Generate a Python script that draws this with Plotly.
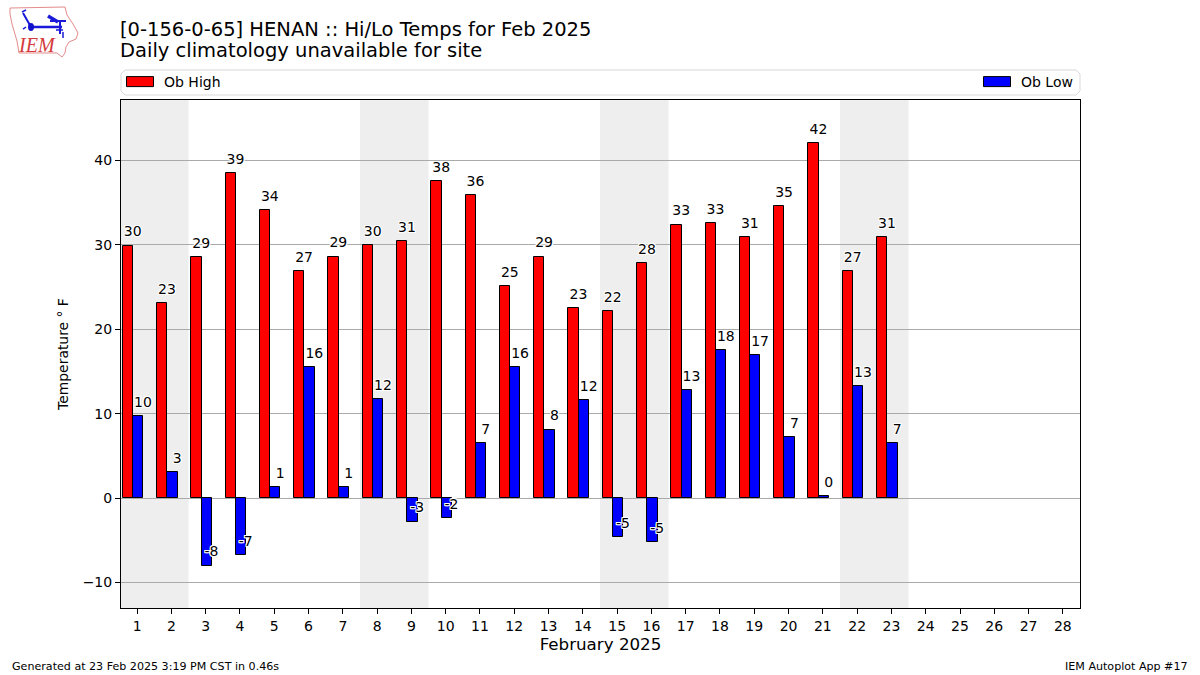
import plotly.graph_objects as go

days = list(range(1, 24))
highs = [29.9, 23.1, 28.5, 38.5, 34.1, 26.9, 28.6, 30.0, 30.4, 37.5, 35.9, 25.1, 28.6, 22.5, 22.1, 27.8, 32.4, 32.6, 30.9, 34.6, 42.0, 26.9, 30.9]
lows = [9.7, 3.1, -8.0, -6.8, 1.3, 15.5, 1.3, 11.7, -2.8, -2.4, 6.5, 15.5, 8.1, 11.6, -4.6, -5.2, 12.8, 17.5, 16.9, 7.2, 0.2, 13.3, 6.5]
high_labels = [30, 23, 29, 39, 34, 27, 29, 30, 31, 38, 36, 25, 29, 23, 22, 28, 33, 33, 31, 35, 42, 27, 31]
low_labels = [10, 3, -8, -7, 1, 16, 1, 12, -3, -2, 7, 16, 8, 12, -5, -5, 13, 18, 17, 7, 0, 13, 7]
weekends = [(0.5, 2.5), (7.5, 9.5), (14.5, 16.5), (21.5, 23.5)]
x_ticks = list(range(1, 29))
y_ticks = [-10, 0, 10, 20, 30, 40]

FONT = "DejaVu Sans"
HALO = "white 1px 0 0, white -1px 0 0, white 0 1px 0, white 0 -1px 0, white 1px 1px 0, white -1px -1px 0, white 1px -1px 0, white -1px 1px 0"
L, R, T, B = 121, 1080, 100, 608


def px(x, y):
    return (x - L) / (R - L), (B - y) / (B - T)


def path(points, close=False):
    coords = [px(*p) for p in points]
    d = "M" + " L".join(f"{a:.5f},{b:.5f}" for a, b in coords)
    return d + (" Z" if close else "")


fig = go.Figure()
fig.add_bar(x=days, y=highs, name="Ob High", width=0.3, offset=-0.42,
            marker=dict(color="#ff0000", line=dict(color="black", width=1)))
fig.add_bar(x=days, y=lows, name="Ob Low", width=0.3, offset=-0.12, legend="legend2",
            marker=dict(color="#0000ff", line=dict(color="black", width=1)))
for offset, vals, labels in ((-0.13, highs, high_labels), (0.17, lows, low_labels)):
    fig.add_scatter(x=[d + offset for d in days], y=[v + 0.68 for v in vals],
                    mode="text", text=[str(v) for v in labels],
                    textposition="top center", showlegend=False, hoverinfo="skip", cliponaxis=False,
                    textfont=dict(family=FONT, size=14, color="black", shadow=HALO))

for a, b in weekends:
    fig.add_shape(type="rect", x0=a, x1=b, y0=0, y1=1, xref="x", yref="y domain",
                  fillcolor="#eeeeee", line_width=0, layer="below")

# Rounded legend frame
r = 4
lx0, lx1, ly0, ly1 = 121, 1080, 70, 95
fig.add_shape(type="path", xref="paper", yref="paper", line=dict(color="#d9d9d9", width=1), fillcolor="white", layer="below",
              path=path([(lx0 + r, ly0), (lx1 - r, ly0), (lx1, ly0 + r), (lx1, ly1 - r), (lx1 - r, ly1), (lx0 + r, ly1), (lx0, ly1 - r), (lx0, ly0 + r)], True))

# IEM logo: Iowa outline and station glyph
outline = [(10, 8), (65, 7), (67, 15), (73, 24), (78, 33), (76, 39), (69, 42), (66, 47), (65, 53), (62, 57), (57, 53), (19, 53), (17, 41), (12, 24), (10, 14)]
fig.add_shape(type="path", xref="paper", yref="paper", path=path(outline, True), line=dict(color="#e38b8b", width=1))
for seg, w in (([(31, 27), (62, 27)], 2.5), ([(31, 27), (23, 13)], 2), ([(22, 12), (26, 10)], 1.5), ([(48, 16), (58, 22)], 3.5),
               ([(50, 21), (66, 21)], 2), ([(60, 21), (60, 34)], 2), ([(56, 30), (63, 30)], 1.5), ([(63, 32), (63, 38)], 1.5), ([(23, 29), (26, 27)], 1.5)):
    fig.add_shape(type="path", xref="paper", yref="paper", path=path(seg), line=dict(color="#1a1ad8", width=w))
cx, cy = px(31, 27)
fig.add_shape(type="circle", xref="paper", yref="paper", x0=cx - 3 / 959, x1=cx + 3 / 959, y0=cy - 4 / 508, y1=cy + 4 / 508,
              fillcolor="#1111cc", line_width=0)
lx, ly = px(37, 45)
fig.add_annotation(text="<i>IEM</i>", x=lx, y=ly, xref="paper", yref="paper", showarrow=False, xanchor="center", yanchor="middle",
                   font=dict(family="Liberation Serif", size=20, color="#d43a3a"))

footL = px(10, 666)
footR = px(1190, 666)
fig.add_annotation(text="Generated at 23 Feb 2025 3:19 PM CST in 0.46s", x=footL[0], y=footL[1], xref="paper", yref="paper",
                   xanchor="left", yanchor="middle", showarrow=False, font=dict(family=FONT, size=11.1, color="black"))
fig.add_annotation(text="IEM Autoplot App #17", x=footR[0], y=footR[1], xref="paper", yref="paper",
                   xanchor="right", yanchor="middle", showarrow=False, font=dict(family=FONT, size=11.1, color="black"))
subx, suby = px(118, 51)
fig.add_annotation(text="Daily climatology unavailable for site", x=subx, y=suby, xref="paper", yref="paper",
                   xanchor="left", yanchor="middle", showarrow=False, font=dict(family=FONT, size=19.5, color="black"))

legend_common = dict(orientation="h", yanchor="middle", bgcolor="rgba(0,0,0,0)", borderwidth=0,
                     itemclick=False, itemdoubleclick=False, font=dict(family=FONT, size=14, color="black"))
leg_y = px(0, 82)[1]
fig.update_layout(
    width=1200, height=675, autosize=False, margin=dict(l=L, r=1200 - R, t=T, b=675 - B, pad=0),
    paper_bgcolor="white", plot_bgcolor="white", barmode="overlay", bargap=0,
    font=dict(family=FONT, size=14, color="black"),
    title=dict(text="[0-156-0-65] HENAN :: Hi/Lo Temps for Feb 2025",
               x=120 / 1200, xanchor="left", xref="container", y=1 - 29 / 675, yanchor="middle",
               font=dict(family=FONT, size=19.5, color="black")),
    legend=dict(x=px(124, 0)[0], y=leg_y, xanchor="left", **legend_common),
    legend2=dict(x=px(1078, 0)[0], y=leg_y, xanchor="right", **legend_common),
    xaxis=dict(range=[0.53, 28.5], tickmode="array", tickvals=x_ticks, ticktext=[str(t) for t in x_ticks], showgrid=False, zeroline=False,
               ticks="outside", ticklen=5, tickwidth=1, tickcolor="black", showline=True, linecolor="black", linewidth=1, mirror=True,
               title=dict(text="February 2025", font=dict(family=FONT, size=16.7), standoff=4), tickfont=dict(family=FONT, size=14)),
    yaxis=dict(range=[-13.03, 47.15], tickmode="array", tickvals=y_ticks, ticktext=["\u221210" if t == -10 else str(t) for t in y_ticks],
               showgrid=True, gridcolor="#aaaaaa", gridwidth=1, zeroline=True, zerolinecolor="#aaaaaa", zerolinewidth=1,
               ticks="outside", ticklen=5, tickwidth=1, tickcolor="black", showline=True, linecolor="black", linewidth=1, mirror=True,
               title=dict(text="Temperature \u00b0 F", font=dict(family=FONT, size=13.9), standoff=10), tickfont=dict(family=FONT, size=14)),
)
# Remove the page margin and give the legend keys their wide rectangular shape.
post = """
document.body.style.margin = '0';
document.querySelectorAll('.infolayer .legendpoints path').forEach(function (p) {
  p.setAttribute('d', 'M9.5,5H-17.5V-5H9.5Z');
});
"""
fig.write_html("out.html", post_script=post, config=dict(displayModeBar=False))
